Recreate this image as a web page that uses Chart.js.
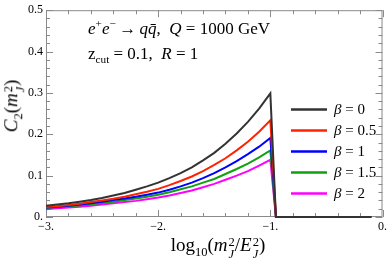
<!DOCTYPE html>
<html>
<head>
<meta charset="utf-8">
<script src="https://cdn.jsdelivr.net/npm/chart.js@4"></script>
<style>
  body { margin: 0; background: #fff; }
  #wrap { position: relative; width: 390px; height: 262px; font-family: 'Liberation Serif', 'Times New Roman', serif; color: #000; }
  #c { position: absolute; left: 0; top: 0; }
  .txt { position: absolute; white-space: nowrap; line-height: 1; }
  .ss { display: inline-flex; flex-direction: column; vertical-align: 0.42em; font-size: 0.66em; line-height: 0.95; margin-left: 1px; }
  sub, sup { font-size: 0.66em; line-height: 0; }
</style>
</head>
<body>
<div id="wrap">
  <canvas id="c" width="390" height="262"></canvas>
  <div class="txt" id="ann1" style="left:88px; top:20px; font-size:17px;"><i>e</i><sup>+</sup><i>e</i><sup>−</sup>&thinsp;→&thinsp;<i>q</i><i>q̄</i>,&ensp;<i>Q</i> = 1000 GeV</div>
  <div class="txt" id="ann2" style="left:88px; top:45px; font-size:17px;">z<sub>cut</sub> = 0.1,&ensp;<i>R</i> = 1</div>
  <div class="txt" id="ytitle" style="left:14px; top:106px; font-size:19px; transform: translate(-50%,-50%) rotate(-90deg);"><i>C</i><sub>2</sub>(<i>m</i><span class="ss"><span>2</span><span><i>J</i></span></span>)</div>
  <div class="txt" id="xtitle" style="left:218px; top:235px; font-size:19px; transform: translateX(-50%);">log<sub>10</sub>(<i>m</i><span class="ss"><span>2</span><span><i>J</i></span></span>/<i>E</i><span class="ss"><span>2</span><span><i>J</i></span></span>)</div>
</div>
<script>
// log10(m_J^2/E_J^2) sample points
const logX = [-3.0, -2.9, -2.8, -2.7, -2.6, -2.5, -2.4, -2.3, -2.2, -2.1, -2.0,
              -1.9, -1.8, -1.7, -1.6, -1.5, -1.4, -1.3, -1.2, -1.1, -1.0, -0.95, -0.1];

// C2(m_J^2) for each beta
const beta0 = [0.027, 0.030, 0.033, 0.037, 0.041, 0.046, 0.052, 0.058, 0.066, 0.074, 0.083,
               0.094, 0.106, 0.120, 0.137, 0.155, 0.177, 0.202, 0.230, 0.262, 0.299, 0, 0];
const beta05 = [0.024, 0.026, 0.029, 0.032, 0.036, 0.040, 0.044, 0.049, 0.055, 0.061, 0.068,
                0.077, 0.087, 0.098, 0.111, 0.126, 0.142, 0.161, 0.182, 0.206, 0.234, 0, 0];
const beta1 = [0.023, 0.025, 0.027, 0.030, 0.033, 0.037, 0.041, 0.045, 0.049, 0.054, 0.059,
               0.066, 0.074, 0.083, 0.094, 0.106, 0.120, 0.135, 0.152, 0.170, 0.191, 0, 0];
const beta15 = [0.022, 0.024, 0.026, 0.028, 0.031, 0.034, 0.037, 0.041, 0.045, 0.049, 0.054,
                0.060, 0.067, 0.074, 0.083, 0.092, 0.104, 0.116, 0.129, 0.144, 0.161, 0, 0];
const beta2 = [0.019, 0.021, 0.023, 0.025, 0.027, 0.030, 0.033, 0.036, 0.039, 0.043, 0.047,
               0.052, 0.058, 0.064, 0.072, 0.080, 0.090, 0.100, 0.111, 0.124, 0.138, 0, 0];

const betaLabels = ['0', '0.5', '1', '1.5', '2'];
const betaColors = ['#333333', '#ff2200', '#0000ff', '#11a011', '#ff00ff'];
const series = [beta0, beta05, beta1, beta15, beta2];

const xTicks = [-3, -2, -1, 0];
const yTicks = [0, 0.1, 0.2, 0.3, 0.4, 0.5];

const frameColor = '#8a8a8a';
const serif = "'Liberation Serif', 'Times New Roman', serif";

const datasets = series.map((vals, i) => ({
    label: 'β = ' + betaLabels[i],
    data: vals.map((v, j) => ({ x: logX[j], y: v })),
    borderColor: betaColors[i],
    borderWidth: 2,
    pointRadius: 0,
    tension: 0,
    fill: false,
    clip: false
}));

// frame with inward ticks on all four sides
const framePlugin = {
    id: 'frame',
    beforeDatasetsDraw(chart) {
        const ctx = chart.ctx;
        const a = chart.chartArea;
        const xs = chart.scales.x;
        const ys = chart.scales.y;
        ctx.save();
        ctx.strokeStyle = frameColor;
        ctx.lineWidth = 1;
        ctx.strokeRect(a.left + 0.5, a.top + 0.5, a.right - a.left - 1, a.bottom - a.top - 1);
        ctx.beginPath();
        for (let k = 0; k <= 15; k++) {
            const v = -3 + k * 0.2;
            const major = k % 5 === 0;
            const len = major ? 7 : 4;
            const px = Math.round(xs.getPixelForValue(v)) + 0.5;
            ctx.moveTo(px, a.bottom); ctx.lineTo(px, a.bottom - len);
            ctx.moveTo(px, a.top); ctx.lineTo(px, a.top + len);
        }
        for (let k = 0; k <= 25; k++) {
            const v = k * 0.02;
            const major = k % 5 === 0;
            const len = major ? 7 : 4;
            const py = Math.round(ys.getPixelForValue(v)) + 0.5;
            ctx.moveTo(a.left, py); ctx.lineTo(a.left + len, py);
            ctx.moveTo(a.right, py); ctx.lineTo(a.right - len, py);
        }
        ctx.stroke();
        ctx.restore();
    },
    afterDraw(chart) {
        const ctx = chart.ctx;
        ctx.save();
        chart.data.datasets.forEach((ds, i) => {
            const y = 109.5 + i * 21;
            ctx.strokeStyle = ds.borderColor;
            ctx.lineWidth = 2.5;
            ctx.beginPath();
            ctx.moveTo(291, y);
            ctx.lineTo(327, y);
            ctx.stroke();
            ctx.fillStyle = '#000';
            ctx.textBaseline = 'middle';
            ctx.font = 'italic 15px ' + serif;
            ctx.fillText('β', 334, y + 1);
            const w = ctx.measureText('β').width;
            ctx.font = '15px ' + serif;
            ctx.fillText(' = ' + betaLabels[i], 334 + w, y + 1);
        });
        ctx.restore();
    }
};

new Chart(document.getElementById('c'), {
    type: 'line',
    data: { datasets: datasets },
    options: {
        responsive: false,
        devicePixelRatio: 1,
        animation: false,
        layout: { padding: { top: 8, right: 6, left: 0, bottom: 0 } },
        plugins: { legend: { display: false }, tooltip: { enabled: false } },
        scales: {
            x: {
                type: 'linear',
                min: -3, max: 0,
                afterBuildTicks: s => { s.ticks = xTicks.map(v => ({ value: v })); },
                afterFit: s => { s.height = 45; },
                grid: { display: false, drawTicks: false },
                border: { display: false },
                ticks: {
                    padding: 3,
                    maxRotation: 0,
                    color: '#000',
                    font: { family: serif, size: 12 },
                    callback: v => v === 0 ? '0.' : '−' + Math.abs(v) + '.'
                }
            },
            y: {
                type: 'linear',
                min: 0, max: 0.5,
                afterBuildTicks: s => { s.ticks = yTicks.map(v => ({ value: v })); },
                afterFit: s => { s.width = 46; },
                grid: { display: false, drawTicks: false },
                border: { display: false },
                ticks: {
                    padding: 3,
                    color: '#000',
                    font: { family: serif, size: 12 },
                    callback: v => v === 0 ? '0.' : String(Math.round(v * 10) / 10)
                }
            }
        }
    },
    plugins: [framePlugin]
});
</script>
</body>
</html>
